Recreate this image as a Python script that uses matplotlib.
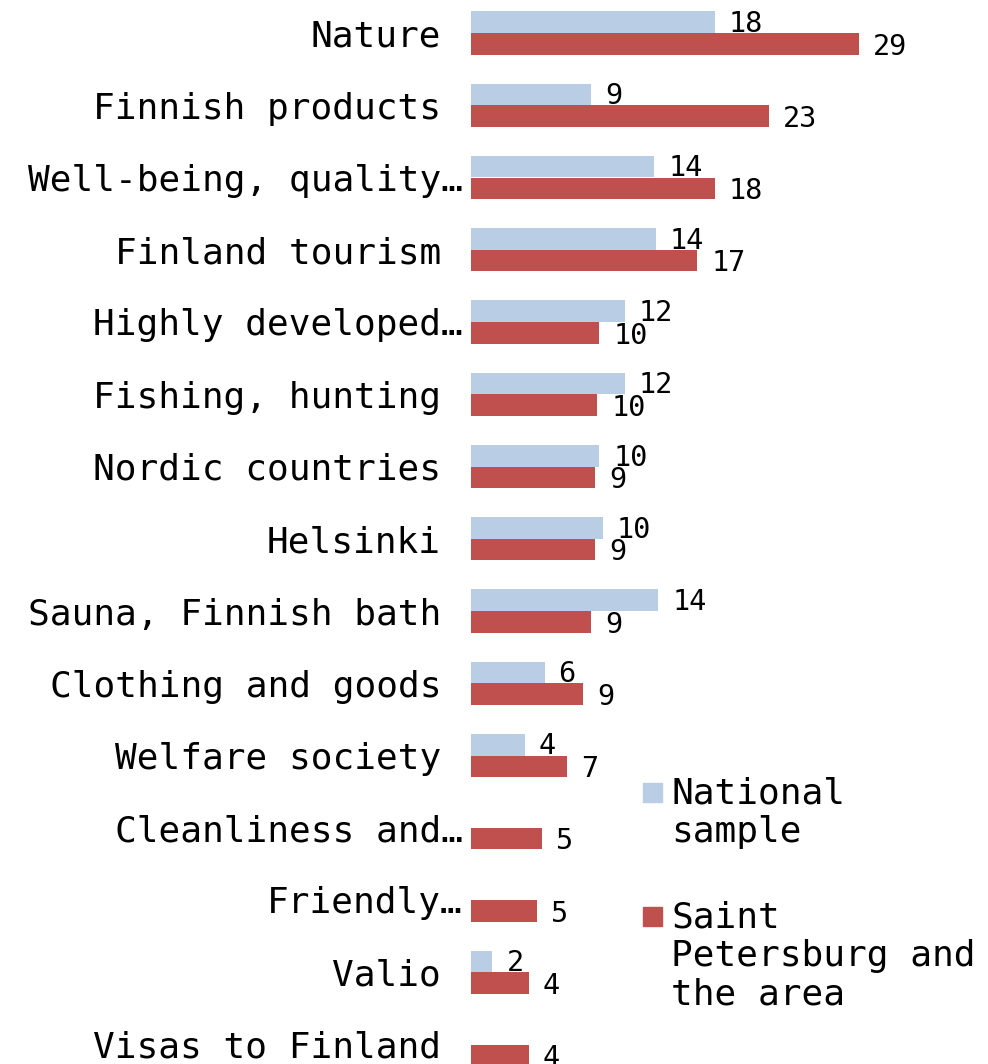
import math

import matplotlib
matplotlib.use("Agg")
import matplotlib.pyplot as plt
import matplotlib.patches as mpatches
from matplotlib.transforms import blended_transform_factory

FONT = "DejaVu Sans Mono"
C_NAT = "#B9CDE5"
C_SPB = "#C0504D"

categories = [
    "Nature", "Finnish products", "Well-being, quality…", "Finland tourism",
    "Highly developed…", "Fishing, hunting", "Nordic countries", "Helsinki",
    "Sauna, Finnish bath", "Clothing and goods", "Welfare society",
    "Cleanliness and…", "Friendly…", "Valio", "Visas to Finland",
]
nan = math.nan
national = [18.2, 9.0, 13.7, 13.8, 11.5, 11.5, 9.6, 9.85, 14.0, 5.5, 4.0, nan, nan, 1.6, nan]
national_labels = ["18", "9", "14", "14", "12", "12", "10", "10", "14", "6", "4", "", "", "2", ""]
spb = [29.0, 22.3, 18.2, 16.9, 9.6, 9.45, 9.3, 9.25, 9.0, 8.4, 7.2, 5.3, 4.9, 4.3, 4.3]
spb_labels = ["29", "23", "18", "17", "10", "10", "9", "9", "9", "9", "7", "5", "5", "4", "4"]
series_names = ["National\nsample", "Saint\nPetersburg and\nthe area"]

W, H = 988, 1064
fig = plt.figure(figsize=(W / 100, H / 100), dpi=100)
ax = fig.add_axes([471 / W, 0, 517 / W, 1])
ax.set_axis_off()

bh = 0.2976
for i in range(len(categories)):
    if not math.isnan(national[i]):
        ax.barh(i - bh / 2, national[i], height=bh, color=C_NAT, edgecolor="none")
        ax.annotate(national_labels[i], xy=(national[i], i), xytext=(14, 1),
                    textcoords="offset pixels", ha="left", va="baseline",
                    fontsize=20.5, family=FONT, color="black", annotation_clip=False)
    ax.barh(i + bh / 2, spb[i], height=bh, color=C_SPB, edgecolor="none")
    ax.annotate(spb_labels[i], xy=(spb[i], i + bh), xytext=(14, 0),
                textcoords="offset pixels", ha="left", va="baseline",
                fontsize=20.5, family=FONT, color="black", annotation_clip=False)

ax.set_xlim(0, 517 / 13.38)
ax.set_ylim((H - 33) / 72.25, -33 / 72.25)

# category labels; truncated ones hang their ellipsis past the others
trans = blended_transform_factory(fig.transFigure, ax.transData)
for i, lab in enumerate(categories):
    xr = 463 if lab.endswith("…") else 441
    ax.text(xr / W, i, lab, transform=trans, ha="right", va="center_baseline",
            fontsize=26, family=FONT, color="black")

# legend drawn by hand so the squares sit on the first text line
for name, col, sq_top, txt_top in [(series_names[0], C_NAT, 783, 776),
                                   (series_names[1], C_SPB, 907, 900)]:
    fig.patches.append(mpatches.Rectangle((643 / W, 1 - (sq_top + 19) / H), 19 / W, 19 / H,
                                          transform=fig.transFigure, color=col))
    fig.text(671 / W, 1 - txt_top / H, name, ha="left", va="top",
             fontsize=26, family=FONT, linespacing=1.18)

fig.savefig("out.png", dpi=100)
